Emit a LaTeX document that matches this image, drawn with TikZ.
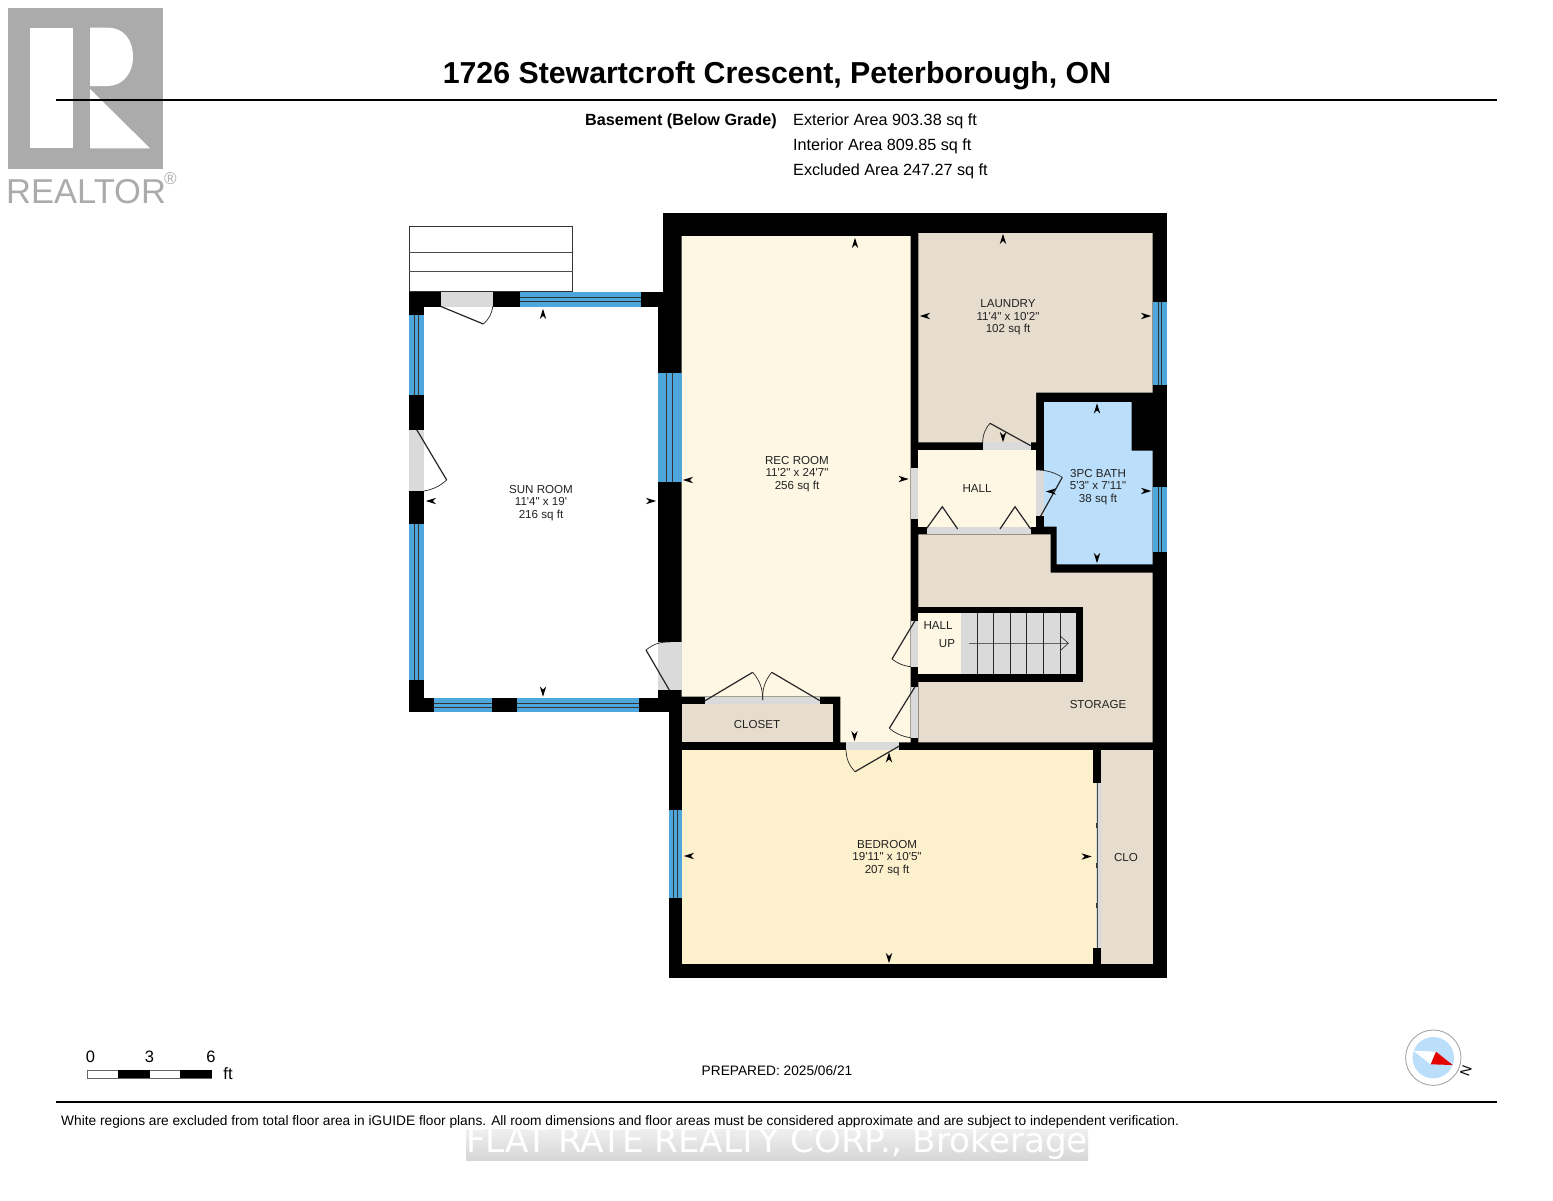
\documentclass[tikz,border=0pt]{standalone}
\usepackage{fontspec}
\setmainfont[Ligatures=TeXOff]{Liberation Sans}
\newfontfamily\markfont{DejaVu Sans}
\definecolor{recroom}{HTML}{FEF7E4}
\definecolor{bedroom}{HTML}{FDF0CD}
\definecolor{beige}{HTML}{E6DDCE}
\definecolor{bathblue}{HTML}{BBDFFB}
\definecolor{glassblue}{HTML}{4DA7DD}
\definecolor{gapgray}{HTML}{DADADA}
\definecolor{logogray}{HTML}{ABABAB}
\definecolor{labelgray}{HTML}{222222}
\def\hglass(#1:#2:#3:#4){\fill[glassblue] (#1, #3) rectangle (#2, #4);
	\draw[glassline] (#1, {#3+(#4-#3)*0.37}) -- (#2, {#3+(#4-#3)*0.37});
	\draw[glassline] (#1, {#3+(#4-#3)*0.63}) -- (#2, {#3+(#4-#3)*0.63});}
\def\vglass(#1:#2:#3:#4){\fill[glassblue] (#1, #3) rectangle (#2, #4);
	\draw[glassline] ({#1+(#2-#1)*0.37}, #3) -- ({#1+(#2-#1)*0.37}, #4);
	\draw[glassline] ({#1+(#2-#1)*0.63}, #3) -- ({#1+(#2-#1)*0.63}, #4);}
\tikzset{
	glassline/.style={draw=black!80, line width=0.7pt},
	leaf/.style={draw=black!85, line width=1.2pt},
	swing/.style={draw=black!85, line width=0.7pt},
	roomtext/.style={align=center, text=labelgray, inner sep=0pt, font=\fontsize{11.6}{12.5}\selectfont},
	arrowtip/.pic={\fill[black] (5.2, 0) -- (-5, 3.2) -- (-2, 0) -- (-5, -3.2) -- cycle;}
}

\begin{document}
\begin{tikzpicture}[x=1pt, y=-1pt]
	\useasboundingbox (0, 0) rectangle (1553, 1200);
	%%%%% LOGO %%%%%
	\fill[logogray] (8.3, 8.3) rectangle (162.7, 169);
	\fill[white] (30, 27.7) rectangle (73, 148.3);
	\fill[white] (90, 27.7) -- (108, 27.7) .. controls (124, 27.7) and (133, 40) .. (133, 57) .. controls (133, 74) and (122, 86) .. (108, 86) -- (90, 86) -- cycle;
	\fill[white] (90, 89) -- (150, 148.3) -- (90, 148.3) -- cycle;
	\node[text=logogray, inner sep=0pt, anchor=west, font=\fontsize{34.5}{34.5}\selectfont] (realtor) at (6, 191.5) {REALTOR};
	\node[text=logogray, inner sep=0pt, font=\fontsize{17}{17}\selectfont] (realtormark) at (170.5, 179) {®};

	%%%%% HEADER %%%%%
	\coordinate (topleft) at (56, 100);
	\coordinate (topright) at (1497, 100);
	\draw[line width=2.5pt] (topleft) -- (topright);
	\node[inner sep=0pt, font=\fontsize{30.3}{30.3}\bfseries\selectfont] (title) at (777, 76) {1726 Stewartcroft Crescent, Peterborough, ON};
	\node[inner sep=0pt, anchor=east, font=\fontsize{16.2}{16.2}\bfseries\selectfont] (level) at (777, 121) {Basement (Below Grade)};
	\node[inner sep=0pt, anchor=west, font=\fontsize{16.2}{16.2}\selectfont] (exterior) at (793, 121) {Exterior Area 903.38 sq ft};
	\node[inner sep=0pt, anchor=west, font=\fontsize{16.2}{16.2}\selectfont] (interior) at (793, 146) {Interior Area 809.85 sq ft};
	\node[inner sep=0pt, anchor=west, font=\fontsize{16.2}{16.2}\selectfont] (excluded) at (793, 171) {Excluded Area 247.27 sq ft};

	%%%%% STEPS %%%%%
	\draw[black!80, line width=0.9pt, fill=white] (409.3, 226.7) rectangle (572.7, 291.5);
	\draw[black!70, line width=0.9pt] (409.3, 252) -- (572.7, 252);
	\draw[black!70, line width=0.9pt] (409.3, 271.3) -- (572.7, 271.3);

	%%%%% WALLS %%%%%
	\fill[black] (409.3, 291.5) rectangle (681, 712.3);
	\fill[black] (662.7, 213) rectangle (1167, 700);
	\fill[black] (668.5, 690) rectangle (1167, 978.3);
	\fill[white] (424, 306.5) rectangle (657.5, 697.7);

	%%%%% ROOMS %%%%%
	\fill[recroom] (681.5, 236) -- (910.7, 236) -- (910.7, 742.3) -- (840.3, 742.3) -- (840.3, 696.7) -- (681.5, 696.7) -- cycle;
	\fill[beige] (682, 704.3) rectangle (833.3, 742.3);
	\fill[beige] (918.3, 233) -- (1152.7, 233) -- (1152.7, 392.7) -- (1036, 392.7) -- (1036, 442.3) -- (918.3, 442.3) -- cycle;
	\fill[recroom] (918.3, 450.3) rectangle (1036, 526.7);
	\fill[bathblue] (1044, 402) -- (1131.7, 402) -- (1131.7, 450.7) -- (1152.7, 450.7) -- (1152.7, 564.3) -- (1056.7, 564.3) -- (1056.7, 526.7) -- (1044, 526.7) -- cycle;
	\fill[beige] (918.3, 534.3) -- (1050.7, 534.3) -- (1050.7, 572.7) -- (1152.7, 572.7) -- (1152.7, 742.3) -- (918.3, 742.3) -- cycle;
	\fill[bedroom] (682, 750) rectangle (1092.7, 964);
	\fill[beige] (1100.7, 750) rectangle (1152.7, 964);

	% stairs
	\fill[black] (918.3, 607.3) rectangle (1083.3, 681.7);
	\fill[recroom] (918.3, 613.3) rectangle (960.7, 674.3);
	\fill[gapgray] (960.7, 613.3) rectangle (1075.7, 674.3);
	\foreach \xtread in {977.3, 993.7, 1010.3, 1026.7, 1043.3, 1060}
		\draw[swing, line width=0.8pt] (\xtread, 613.3) -- (\xtread, 674.3);
	\coordinate (stairfoot) at (969, 643.3);
	\coordinate (stairhead) at (1068.3, 643.3);
	\draw[swing, line width=0.6pt] (stairfoot) -- (stairhead) (1061, 636.7) -- (stairhead) -- (1061, 650);

	%%%%% WINDOWS %%%%%
	\hglass(519.5:641:291.5:306.5)
	\vglass(409.3:424:314.7:395)
	\vglass(409.3:424:524.3:680)
	\hglass(433.7:492:697.7:712.3)
	\hglass(516.7:638.7:697.7:712.3)
	\vglass(657.5:681.5:373:481.7)
	\vglass(1152.7:1167:302:385)
	\vglass(1152.7:1167:486.7:551.7)
	\vglass(668.5:682:810:898)

	%%%%% DOORS %%%%%
	\foreach \xa/\ya/\xb/\yb in {441/291.5/492.7/306.5, 409.3/429.7/424/491, 657.5/642/681.5/690,
		705/696.7/820/704.3, 846/742.3/899.3/750, 982.7/442.3/1030.7/450.3, 1036/470/1044/516,
		926.7/526.7/1031/534.3, 910.7/468.3/918.3/519.3, 910.7/620.7/918.3/666.7, 910.7/686.7/918.3/737.7}
		\fill[gapgray] (\xa, \ya) rectangle (\xb, \yb);

	\draw[leaf] (441, 306.5) -- (483.3, 324);
	\draw[swing] (483.3, 324) to[bend right=20] (492.7, 306.5);
	\draw[leaf] (416.7, 429.7) -- (446.7, 480);
	\draw[swing] (446.7, 480) to[bend left=15] (424, 491);
	\draw[leaf] (669.3, 690) -- (646, 650);
	\draw[swing] (646, 650) to[bend left=20] (670, 642);
	\draw[leaf] (705, 700.7) -- (752.7, 672.3);
	\draw[swing] (752.7, 672.3) to[bend left=20] (762.7, 700);
	\draw[leaf] (820, 700.7) -- (771.7, 672.3);
	\draw[swing] (771.7, 672.3) to[bend right=20] (762.7, 700);
	\draw[leaf] (899.3, 746) -- (855, 771.7);
	\draw[swing] (855, 771.7) to[bend left=20] (846, 750);
	\draw[leaf] (915, 686.7) -- (889.3, 728.3);
	\draw[swing] (889.3, 728.3) to[bend right=15] (910.7, 737.7);
	\draw[leaf] (915, 620.7) -- (892, 659);
	\draw[swing] (892, 659) to[bend right=15] (910.7, 666.7);
	\draw[leaf] (1030.7, 445.7) -- (990, 423.3);
	\draw[swing] (990, 423.3) to[bend right=20] (982.7, 443);
	\draw[leaf] (1040.7, 516) -- (1062.3, 477.3);
	\draw[swing] (1062.3, 477.3) to[bend right=15] (1036, 470);
	\draw[leaf] (926.7, 528.3) -- (942.3, 506.7) -- (957.7, 529);
	\draw[leaf] (1000, 529) -- (1015, 506.7) -- (1030.7, 529);

	% bedroom closet slider
	\fill[bedroom] (1092.7, 783.3) rectangle (1096, 948.3);
	\fill[gapgray] (1096, 783.3) rectangle (1100.7, 948.3);
	\draw[black!70, line width=1pt] (1097, 783.3) -- (1097, 948.3);
	\foreach \ytab in {823, 863, 903}
		\draw[black!80, line width=1.6pt] (1096.3, \ytab) -- (1096.3, \ytab+5);

	%%%%% DIMENSION TIPS %%%%%
	\foreach \xtip/\ytip/\angtip in {543/314/90, 543/691.5/-90, 431/501/180, 651/501/0,
		855/243/90, 854.5/736/-90, 688/480/180, 903.5/479/0,
		1003/239/90, 1003/437/-90, 925/316/180, 1146/316/0,
		1097/408.5/90, 1097/558/-90, 1051/491.5/180, 1146/491/0,
		889/757.5/90, 889/958/-90, 689/856/180, 1086.5/856.5/0}
		\pic[rotate=\angtip] at (\xtip, \ytip) {arrowtip};

	%%%%% LABELS %%%%%
	\node[roomtext] (sunroom) at (541, 503) {SUN ROOM\\11'4" x 19'\\216 sq ft};
	\node[roomtext] (recroomtext) at (797, 474) {REC ROOM\\11'2" x 24'7"\\256 sq ft};
	\node[roomtext] (laundry) at (1008, 317.5) {LAUNDRY\\11'4" x 10'2"\\102 sq ft};
	\node[roomtext] (bath) at (1098, 487) {3PC BATH\\5'3" x 7'11"\\38 sq ft};
	\node[roomtext] (bedroomtext) at (887, 858) {BEDROOM\\19'11" x 10'5"\\207 sq ft};
	\node[roomtext] (hallupper) at (977, 489) {HALL};
	\node[roomtext] (halllower) at (938, 625) {HALL};
	\node[roomtext] (up) at (947, 644) {UP};
	\node[roomtext] (closet) at (757, 724) {CLOSET};
	\node[roomtext] (clo) at (1126, 857.5) {CLO};
	\node[roomtext] (storage) at (1098, 704.5) {STORAGE};

	%%%%% SCALE %%%%%
	\fill[white, draw=black!60, line width=0.6pt] (87.3, 1070) rectangle (211.7, 1078);
	\fill[black] (117.7, 1070) rectangle (150, 1078);
	\fill[black] (179.7, 1070) rectangle (211.7, 1078);
	\node[inner sep=0pt, font=\fontsize{16.5}{16.5}\selectfont] (scalezero) at (90.5, 1057) {0};
	\node[inner sep=0pt, font=\fontsize{16.5}{16.5}\selectfont] (scalethree) at (149.5, 1057) {3};
	\node[inner sep=0pt, font=\fontsize{16.5}{16.5}\selectfont] (scalesix) at (211, 1057) {6};
	\node[inner sep=0pt, font=\fontsize{16.5}{16.5}\selectfont] (scaleunit) at (228, 1074) {ft};

	%%%%% COMPASS %%%%%
	\draw[draw=black!35, fill=white, line width=0.9pt] (1433.3, 1057.7) circle (27.7);
	\fill[bathblue] (1433.3, 1057.7) circle (20.7);
	\fill[white] (1413.3, 1050.7) -- (1436, 1051.7) -- (1430.7, 1064.3) -- cycle;
	\fill[red!90!black] (1436, 1051.7) -- (1452.7, 1065) -- (1430.7, 1064.3) -- cycle;
	\node[inner sep=0pt, rotate=-110, font=\fontsize{14}{14}\selectfont] (north) at (1466, 1070.7) {N};

	%%%%% FOOTER %%%%%
	\node[inner sep=0pt, font=\fontsize{13.7}{13.7}\selectfont] (prepared) at (777, 1071) {PREPARED: 2025/06/21};
	\coordinate (botleft) at (56, 1102);
	\coordinate (botright) at (1497, 1102);
	\draw[line width=2pt] (botleft) -- (botright);
	\node[inner sep=0pt, anchor=west, font=\fontsize{13.73}{13.73}\selectfont] (disclaimer) at (61, 1122) {White regions are excluded from total floor area in iGUIDE floor plans. All room dimensions and floor areas must be considered approximate and are subject to independent verification.};
	\shade[top color=black!6, bottom color=black!16] (466, 1129) rectangle (1088, 1160);
	\node[text=white, inner sep=0pt, font=\markfont\fontsize{34.2}{34.2}\selectfont] (brokerage) at (777, 1143) {FLAT RATE REALTY CORP., Brokerage};
\end{tikzpicture}
\end{document}
